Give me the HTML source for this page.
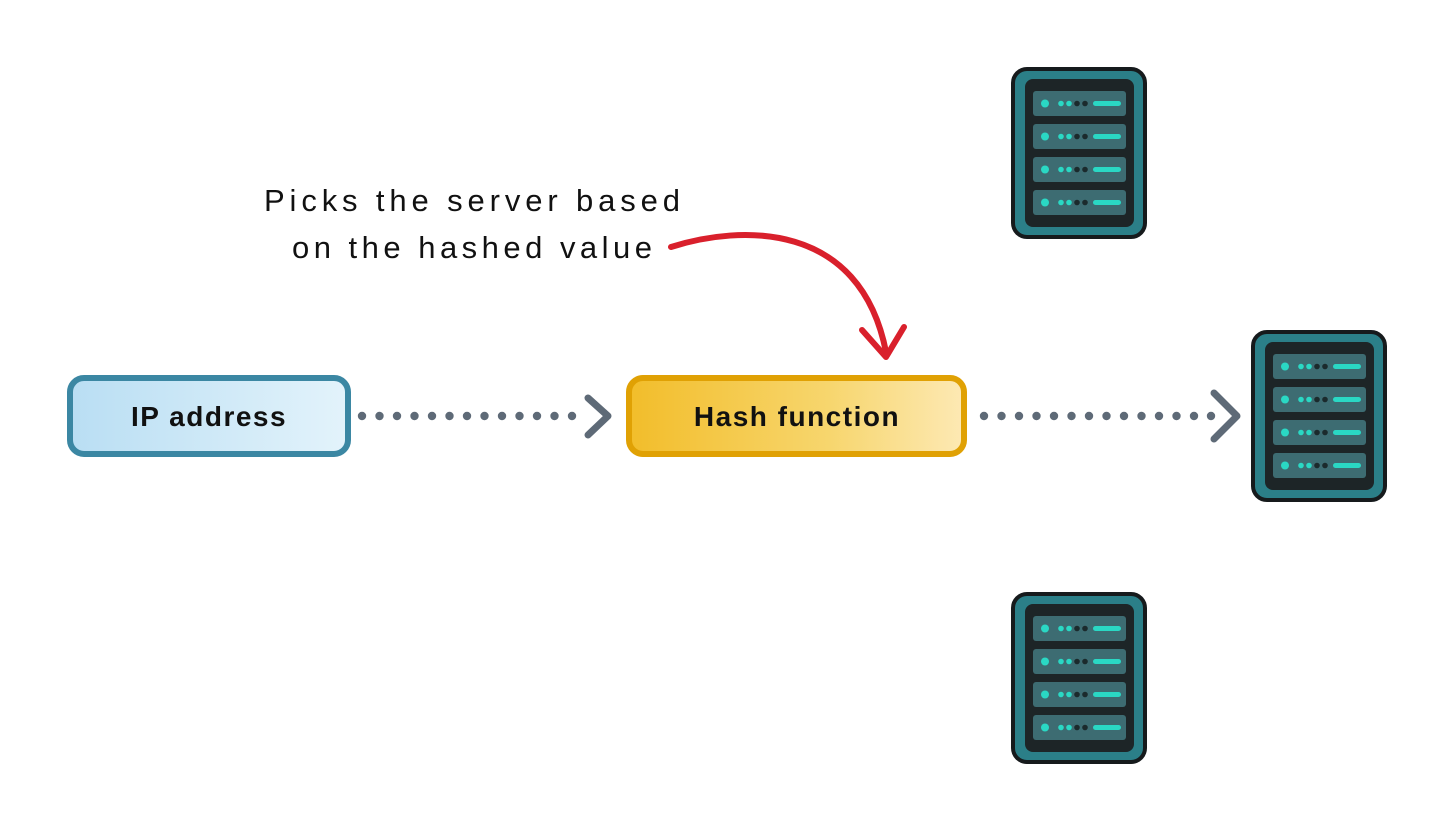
<!DOCTYPE html>
<html><head><meta charset="utf-8"><style>
html,body{margin:0;padding:0;background:#fff;}
svg{display:block}
</style></head><body>
<svg width="1456" height="832" viewBox="0 0 1456 832" xmlns="http://www.w3.org/2000/svg">
<defs>
<linearGradient id="gb" x1="0" y1="0" x2="1" y2="0"><stop offset="0" stop-color="#b9def3"/><stop offset="1" stop-color="#e3f3fb"/></linearGradient>
<linearGradient id="gy" x1="0" y1="0" x2="1" y2="0"><stop offset="0" stop-color="#f2bd2a"/><stop offset="0.6" stop-color="#f7d66e"/><stop offset="1" stop-color="#fde9b4"/></linearGradient>
<g id="srv">
<rect x="2" y="2" width="132" height="168" rx="14" fill="#2b7f88" stroke="#161a1c" stroke-width="4"/>
<rect x="14" y="12" width="109" height="148" rx="8" fill="#1d2527"/>
<g id="slot">
<rect x="22" y="24" width="93" height="25" rx="3" fill="#3d6c72"/>
<circle cx="34" cy="36.5" r="4" fill="#2ad8c4"/>
<circle cx="50" cy="36.5" r="2.8" fill="#2ad8c4"/>
<circle cx="58" cy="36.5" r="2.8" fill="#2ad8c4"/>
<circle cx="66" cy="36.5" r="2.8" fill="#1b2a2c"/>
<circle cx="74" cy="36.5" r="2.8" fill="#1b2a2c"/>
<rect x="82" y="34" width="28" height="5" rx="2.5" fill="#2ad8c4"/>
</g>
<use href="#slot" y="33"/>
<use href="#slot" y="66"/>
<use href="#slot" y="99"/>
</g>
</defs>

<!-- IP box -->
<rect x="70" y="378" width="278" height="76" rx="14" fill="url(#gb)" stroke="#3b87a3" stroke-width="6"/>
<text x="209" y="426" text-anchor="middle" font-family="Liberation Sans, sans-serif" font-weight="bold" font-size="28" fill="#111" letter-spacing="1.5">IP address</text>

<!-- Hash box -->
<rect x="629" y="378" width="335" height="76" rx="14" fill="url(#gy)" stroke="#e0a104" stroke-width="6"/>
<text x="797" y="426" text-anchor="middle" font-family="Liberation Sans, sans-serif" font-weight="bold" font-size="28" fill="#111" letter-spacing="1.5">Hash function</text>

<!-- dotted arrows -->
<g fill="#5e6a77">
<circle cx="362" cy="416" r="4.2"/><circle cx="379.5" cy="416" r="4.2"/><circle cx="397" cy="416" r="4.2"/><circle cx="414.5" cy="416" r="4.2"/><circle cx="432" cy="416" r="4.2"/><circle cx="449.5" cy="416" r="4.2"/><circle cx="467" cy="416" r="4.2"/><circle cx="484.5" cy="416" r="4.2"/><circle cx="502" cy="416" r="4.2"/><circle cx="519.5" cy="416" r="4.2"/><circle cx="537" cy="416" r="4.2"/><circle cx="554.5" cy="416" r="4.2"/><circle cx="572" cy="416" r="4.2"/>
<circle cx="984" cy="416" r="4.2"/><circle cx="1001.5" cy="416" r="4.2"/><circle cx="1019" cy="416" r="4.2"/><circle cx="1036.5" cy="416" r="4.2"/><circle cx="1054" cy="416" r="4.2"/><circle cx="1071.5" cy="416" r="4.2"/><circle cx="1089" cy="416" r="4.2"/><circle cx="1106.5" cy="416" r="4.2"/><circle cx="1124" cy="416" r="4.2"/><circle cx="1141.5" cy="416" r="4.2"/><circle cx="1159" cy="416" r="4.2"/><circle cx="1176.5" cy="416" r="4.2"/><circle cx="1194" cy="416" r="4.2"/><circle cx="1211" cy="416" r="4.2"/>
</g>
<g fill="none" stroke="#5e6a77" stroke-width="7" stroke-linecap="round" stroke-linejoin="round">
<path d="M588 398 L608 416 L588 435"/>
<path d="M1214 393 L1237 416 L1214 439"/>
</g>

<!-- annotation -->
<text font-family="Liberation Sans, sans-serif" font-size="31" fill="#111">
<tspan x="264" y="211" textLength="416" lengthAdjust="spacing">Picks the server based</tspan>
<tspan x="292" y="258" textLength="360" lengthAdjust="spacing">on the hashed value</tspan>
</text>
<g fill="none" stroke="#d9202c" stroke-width="6" stroke-linecap="round" stroke-linejoin="round">
<path d="M671 247 C 740 225, 860 220, 886 352"/>
<path d="M862 330 L886 357 L904 327"/>
</g>

<!-- servers -->
<use href="#srv" x="1011" y="67"/>
<use href="#srv" x="1251" y="330"/>
<use href="#srv" x="1011" y="592"/>
</svg>
</body></html>
